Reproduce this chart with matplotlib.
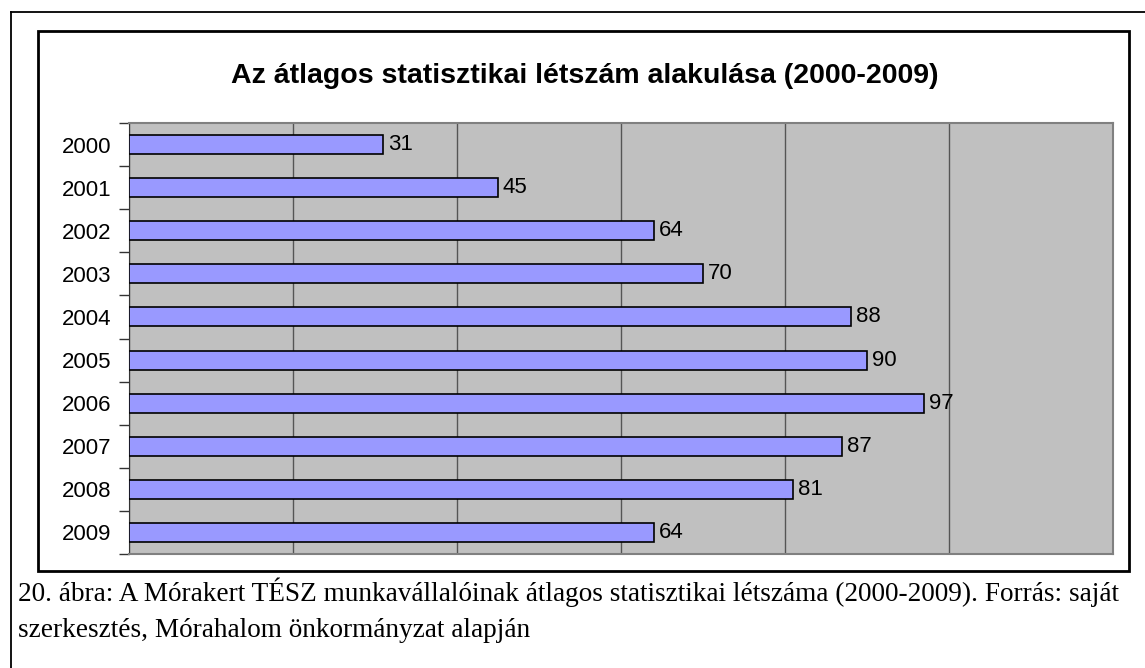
import numpy as np
import matplotlib
matplotlib.use("Agg")
import matplotlib.pyplot as plt
from matplotlib.lines import Line2D
from matplotlib.patches import Rectangle

# adatok
years = ["2000", "2001", "2002", "2003", "2004", "2005", "2006", "2007", "2008", "2009"]
letszam = [31, 45, 64, 70, 88, 90, 97, 87, 81, 64]
title = "Az átlagos statisztikai létszám alakulása (2000-2009)"
caption1 = ("20. ábra: A Mórakert TÉSZ munkavállalóinak átlagos statisztikai létszáma "
            "(2000-2009). Forrás: saját")
caption2 = "szerkesztés, Mórahalom önkormányzat alapján"

W, H = 1145, 668
fig = plt.figure(figsize=(W / 100, H / 100), dpi=100)
fig.patch.set_facecolor("white")

def fx(px):
    return px / W

def fy(py):
    return 1 - py / H

# kulso keret (csak bal es felso el latszik)
fig.add_artist(Line2D([fx(11), fx(11)], [fy(12), fy(668)], color="black", lw=1.3))
fig.add_artist(Line2D([fx(11), fx(1145)], [fy(12), fy(12)], color="black", lw=1.3))
# diagram keret
fig.add_artist(Rectangle((fx(38), fy(571)), fx(1129 - 38), (571 - 31) / H,
                         fill=False, edgecolor="black", lw=2))

ax = fig.add_axes([fx(129), fy(554), fx(1113 - 129), (554 - 123) / H])
ax.set_facecolor("#C0C0C0")

y = np.arange(len(years))
bars = ax.barh(y, letszam, height=0.44, color="#9999FF", edgecolor="black", linewidth=1.2, zorder=3)
for yi, v in zip(y, letszam):
    ax.text(v + 0.6, yi, str(v), va="center", ha="left", fontsize=16,
            family="Liberation Sans", zorder=4)

ax.set_xlim(0, 120)
ax.set_ylim(len(years) - 0.5, -0.5)
ax.set_xticks(np.arange(0, 121, 20))
ax.xaxis.grid(True, color="#555555", lw=1, zorder=1)
ax.tick_params(axis="x", length=0, labelbottom=False)
ax.set_yticks(y)
ax.set_yticklabels(years, fontsize=16, family="Liberation Sans")
ax.set_yticks(np.arange(-0.5, len(years), 1), minor=True)
ax.tick_params(axis="y", which="major", length=0, pad=12.5)
ax.tick_params(axis="y", which="minor", length=7, width=1, color="#333333")
for s in ["top", "right", "bottom"]:
    ax.spines[s].set_color("#808080")
    ax.spines[s].set_linewidth(1.5)
ax.spines["left"].set_color("#333333")

fig.text(fx(585), fy(76), title, ha="center", va="center", fontsize=20.5,
         fontweight="bold", family="Liberation Sans")

fig.text(fx(18), fy(601), caption1, ha="left", va="baseline", fontsize=19.6,
         family="Liberation Serif")
fig.text(fx(18), fy(637), caption2, ha="left", va="baseline", fontsize=19.6,
         family="Liberation Serif")

plt.savefig("out.png", dpi=100)
